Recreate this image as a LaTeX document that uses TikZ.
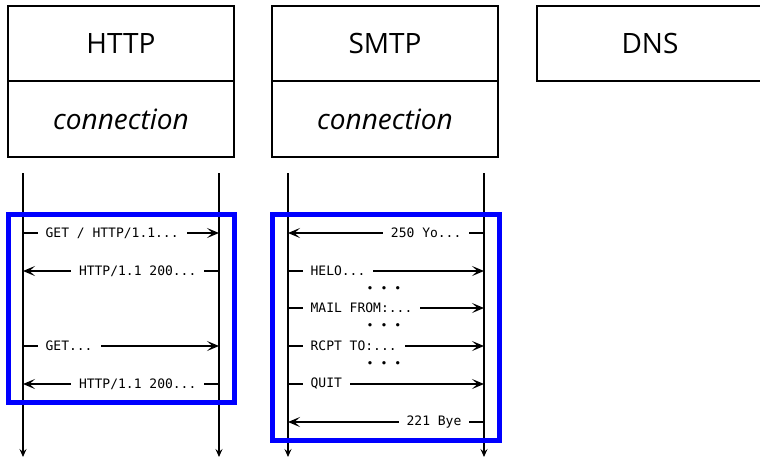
\documentclass[tikz,border=0pt]{standalone}
\usepackage{fontspec}
\setmainfont{Open Sans}
\setmonofont{DejaVu Sans Mono}
\usepackage{tikz}
\usetikzlibrary{arrows.meta}
\usetikzlibrary{positioning}
\tikzset{
  protobox/.style = {rectangle, draw=black, line width=2pt, outer sep=0pt,
    minimum width=226pt, minimum height=75.5pt,
    font=\fontsize{28}{32}\selectfont},
  connbox/.style = {protobox, font=\fontsize{28}{32}\selectfont\itshape},
  life/.style = {line width=2.2pt, -{Stealth[length=8pt,width=7pt,inset=3pt]}},
  msg/.style = {line width=2.2pt, -{Stealth[length=12pt,width=10pt,inset=5.5pt]}},
  lbl/.style = {pos=0, fill=white, inner xsep=8pt, inner ysep=2pt,
    font=\ttfamily\fontsize{13}{15}\selectfont},
  req/.style = {lbl, anchor=west, xshift=13.5pt},% client -> server
  rsp/.style = {lbl, anchor=east, xshift=-13.5pt},% server -> client
  gap/.style = {inner sep=0pt, font=\ttfamily\fontsize{11.5}{12}\selectfont},
  grp/.style = {draw=blue, line width=5pt}
}

\begin{document}
\begin{tikzpicture}[x=1pt,y=-1pt]
\useasboundingbox (0,0) rectangle (760,459);
\clip (0,0) rectangle (760,459);
% protocol boxes
\node [protobox] (http) at (121,43.5) {HTTP};
\node [connbox, below=0pt of http] (httpconn) {connection};
\node [protobox, right=38pt of http] (smtp) {SMTP};
\node [connbox, below=0pt of smtp] (smtpconn) {connection};
\node [protobox, right=39pt of smtp] (dns) {DNS};
% lifelines
\foreach \n/\x in {hc/23, hs/219, sc/288, ss/484} {
  \coordinate (\n top) at (\x,173);
  \coordinate (\n bot) at (\x,457);
  \draw [life] (\n top) -- (\n bot);
}
% HTTP messages
\coordinate (hc1) at (23,233);  \coordinate (hs1) at (219,233);
\coordinate (hc2) at (23,271);  \coordinate (hs2) at (219,271);
\coordinate (hc3) at (23,346);  \coordinate (hs3) at (219,346);
\coordinate (hc4) at (23,384);  \coordinate (hs4) at (219,384);
\draw [msg] (hc1) -- (hs1) node [req] {GET / HTTP/1.1...};
\draw [msg] (hs2) -- (hc2) node [rsp] {HTTP/1.1 200...};
\draw [msg] (hc3) -- (hs3) node [req] {GET...};
\draw [msg] (hs4) -- (hc4) node [rsp] {HTTP/1.1 200...};
% SMTP messages
\coordinate (sc1) at (288,233);  \coordinate (ss1) at (484,233);
\coordinate (sc2) at (288,271);  \coordinate (ss2) at (484,271);
\coordinate (sc3) at (288,308);  \coordinate (ss3) at (484,308);
\coordinate (sc4) at (288,346);  \coordinate (ss4) at (484,346);
\coordinate (sc5) at (288,384);  \coordinate (ss5) at (484,384);
\coordinate (sc6) at (288,422);  \coordinate (ss6) at (484,422);
\draw [msg] (ss1) -- (sc1) node [rsp] {250 Yo...};
\draw [msg] (sc2) -- (ss2) node [req] {HELO...};
\draw [msg] (sc3) -- (ss3) node [req] {MAIL FROM:...};
\draw [msg] (sc4) -- (ss4) node [req] {RCPT TO:...};
\draw [msg] (sc5) -- (ss5) node [req] {QUIT};
\draw [msg] (ss6) -- (sc6) node [rsp] {221 Bye};
\node [gap] (skip1) at (384,289.5) {• • •};
\node [gap] (skip2) at (384,327) {• • •};
\node [gap] (skip3) at (384,365) {• • •};
% connection groups
\draw [grp] (8,214) rectangle (234,402.5);
\draw [grp] (272.5,214) rectangle (499,440.5);
\end{tikzpicture}
\end{document}
